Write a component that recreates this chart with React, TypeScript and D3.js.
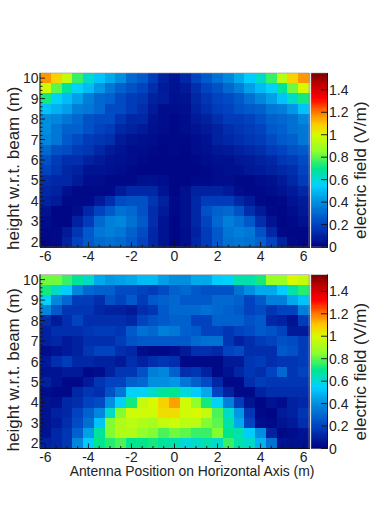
import React from "react";
import * as d3 from "d3";

const xValues = d3.range(25).map((i) => -6 + i * 0.5);
const yValues = d3.range(17).map((i) => 10 - i * 0.5);
const xTicks = [-6, -4, -2, 0, 2, 4, 6];
const yTicks = [2, 3, 4, 5, 6, 7, 8, 9, 10];
const barTicks = [0, 0.2, 0.4, 0.6, 0.8, 1, 1.2, 1.4];

const topField = [
  [116,108,96,76,62,52,46,40,30,26,18,10,6,12,20,26,32,38,46,54,62,76,94,108,116],
  [98,80,68,56,50,42,34,28,24,20,14,8,6,8,14,20,24,30,36,44,50,56,68,82,100],
  [72,56,50,44,36,30,28,22,18,16,10,9,5,6,12,16,20,22,26,32,38,44,52,62,72],
  [52,48,44,36,34,30,22,22,18,14,8,4,4,5,10,14,18,20,24,26,28,34,36,42,52],
  [40,38,34,30,24,22,22,16,12,12,6,4,3,4,8,10,14,18,18,20,24,28,30,32,38],
  [40,34,28,28,24,20,18,12,10,8,5,4,3,4,6,8,10,14,16,18,20,26,28,32,34],
  [38,34,26,22,18,16,14,8,6,5,4,3,3,3,4,6,10,12,14,16,18,22,26,28,34],
  [30,24,22,18,16,12,8,6,4,4,3,2,3,2,4,5,7,8,10,12,14,18,20,24,26],
  [24,18,14,14,10,8,6,5,4,3,2,2,2,2,3,4,5,5,7,8,10,12,16,18,22],
  [20,16,12,10,6,6,5,4,3,2,2,2,2,2,2,3,4,5,5,7,8,10,12,14,20],
  [14,12,12,8,4,4,3,3,3,5,5,4,2,2,3,3,4,4,3,3,4,5,8,12,18],
  [12,10,5,3,3,3,3,8,12,12,12,6,2,5,10,10,10,8,4,3,3,4,6,8,12],
  [10,8,3,3,3,8,14,22,24,24,16,10,3,5,12,18,18,18,12,8,3,2,3,6,8],
  [6,2,2,4,12,20,26,32,30,24,14,8,3,5,12,24,28,30,24,14,8,3,2,4,7],
  [4,2,2,10,18,30,36,38,32,26,14,6,2,5,12,20,30,36,32,26,14,6,2,3,5],
  [3,3,8,16,26,34,36,34,28,22,12,6,2,4,10,18,26,34,36,34,24,12,3,2,2],
  [2,3,10,20,26,30,32,30,26,20,12,6,2,4,12,18,26,32,34,32,28,20,10,3,2],
];

const bottomField = [
  [82,82,76,68,62,46,42,44,46,50,50,44,40,40,46,46,54,55,66,66,72,88,88,100,96],
  [72,62,54,38,30,28,28,22,22,20,18,22,28,30,26,24,24,24,32,40,46,46,54,66,74],
  [56,38,30,18,18,14,24,20,26,18,26,28,30,26,26,26,30,30,28,20,26,36,36,46,52],
  [38,26,16,16,16,12,10,10,8,14,16,26,30,30,30,32,30,28,26,20,22,16,20,20,36],
  [14,8,14,20,14,14,14,14,12,20,24,26,28,28,20,20,28,28,28,24,26,12,10,6,18],
  [10,14,14,14,16,18,18,16,26,32,30,36,34,28,26,20,20,16,20,22,26,24,20,8,8],
  [10,12,8,10,14,14,14,18,24,26,26,26,26,26,30,32,32,16,10,14,18,20,24,22,18],
  [4,6,8,10,16,20,20,14,12,4,3,3,4,8,14,14,12,20,22,14,14,14,26,24,18],
  [8,14,18,12,12,10,10,8,14,10,14,16,14,3,3,3,3,8,8,16,18,14,16,16,18],
  [6,6,8,8,3,4,10,16,16,24,36,38,28,14,16,10,3,6,12,16,14,20,30,16,20],
  [10,6,3,3,8,16,20,20,28,30,40,40,42,34,28,22,12,3,3,14,18,16,16,16,16],
  [4,3,3,12,16,14,24,34,56,56,62,68,70,60,54,46,20,10,3,3,10,14,14,14,14],
  [6,5,12,14,20,22,40,56,72,96,100,108,115,98,86,72,56,36,18,6,2,6,4,10,12],
  [6,10,12,20,28,38,62,84,98,98,98,106,106,98,100,96,78,62,42,16,3,2,8,10,16],
  [6,8,14,22,32,52,84,92,94,92,90,96,98,94,94,84,80,66,46,20,4,3,6,8,14],
  [6,12,16,28,44,68,84,92,92,86,84,78,82,80,76,76,84,70,66,54,40,10,3,4,6],
  [10,12,16,38,54,70,74,78,70,70,72,68,66,60,62,66,62,76,66,62,48,32,6,5,5],
];

const colorStops: [number, string][] = [
  [0, "#00007f"], [0.2, "#0042c0"], [0.4, "#008ee0"], [0.55, "#00d2ff"], [0.7, "#00e68c"],
  [0.85, "#8cff2c"], [1.0, "#d8fa00"], [1.1, "#ffc800"], [1.2, "#ff7800"], [1.32, "#ff0000"],
  [1.45, "#be0000"], [1.55, "#780000"],
];
const color = d3.scaleLinear<string>()
  .domain(colorStops.map((s) => s[0]))
  .range(colorStops.map((s) => s[1]))
  .interpolate(d3.interpolateRgb);

const font = "'Liberation Sans', sans-serif";
const ink = "#222";

function Panel({ top, field, showX }: { top: number; field: number[][]; showX: boolean }) {
  const left = 40, right = 309, h = 174;
  const bottom = top + h;
  const x = d3.scaleLinear().domain([-6.25, 6.25]).range([left, right]);
  const y = d3.scaleLinear().domain([1.75, 10.25]).range([bottom, top]);
  const bar = d3.scaleLinear().domain([0, 1.55]).range([bottom, top]);
  const cw = x(0.5) - x(0);
  const ch = y(2) - y(2.5);
  const barSteps = d3.range(0, 1.55, 0.01);
  return (
    <g>
      <g shapeRendering="crispEdges">
        {field.map((row, r) =>
          row.map((v, c) => (
            <rect key={`${r}-${c}`} x={x(xValues[c]) - cw / 2} y={y(yValues[r]) - ch / 2}
              width={cw + 0.5} height={ch + 0.5} fill={color(v / 100)} />
          ))
        )}
        {barSteps.map((v) => (
          <rect key={v} x={311} y={bar(v + 0.01)} width={16.5} height={bar(v) - bar(v + 0.01) + 0.5} fill={color(v)} />
        ))}
      </g>
      <rect x={left} y={top} width={right - left} height={h} fill="none" stroke="#999" strokeWidth={0.6} />
      <rect x={311} y={top} width={16.5} height={h} fill="none" stroke="#999" strokeWidth={0.5} />
      <line x1={left} x2={right} y1={bottom} y2={bottom} stroke="#111" strokeWidth={1} />
      <line x1={left} x2={left} y1={top} y2={bottom} stroke="#111" strokeWidth={1} />
      <line x1={327.5} x2={327.5} y1={top} y2={bottom} stroke="#111" strokeWidth={1} />
      {d3.range(-6, 6.01, 0.5).map((t) => (
        <line key={t} x1={x(t)} x2={x(t)} y1={bottom} y2={bottom - (t % 2 === 0 ? 5 : 2.5)} stroke="#111" strokeWidth={0.9} />
      ))}
      {d3.range(2, 10.01, 0.2).map((t) => {
        const major = Math.abs(t - Math.round(t)) < 0.01;
        return <line key={t} x1={left} x2={left + (major ? 5 : 2.5)} y1={y(t)} y2={y(t)} stroke="#111" strokeWidth={0.9} />;
      })}
      {barTicks.map((t) => (
        <line key={t} x1={327.5} x2={321} y1={bar(t)} y2={bar(t)} stroke="#111" strokeWidth={0.9} />
      ))}
      {xTicks.map((t) => (
        <text key={t} x={x(t)} y={bottom + 13.5} textAnchor="middle" fontSize={14} fill={ink} fontFamily={font}>{t}</text>
      ))}
      {yTicks.map((t) => (
        <text key={t} x={left - 1.5} y={y(t) + 5} textAnchor="end" fontSize={14} fill={ink} fontFamily={font}>{t}</text>
      ))}
      {barTicks.map((t) => (
        <text key={t} x={329} y={bar(t) + 5} fontSize={14} fill={ink} fontFamily={font}>{t}</text>
      ))}
      <text transform={`translate(18.5,${top + 177}) rotate(-90)`} fontSize={17} fill={ink} fontFamily={font}>height w.r.t. beam (m)</text>
      <text transform={`translate(366,${top + 166}) rotate(-90)`} fontSize={17.2} fill={ink} fontFamily={font}>electric field (V/m)</text>
      {showX && (
        <text x={192} y={bottom + 27} textAnchor="middle" fontSize={13.9} fill={ink} fontFamily={font}>Antenna Position on Horizontal Axis (m)</text>
      )}
    </g>
  );
}

export default function App() {
  return (
    <svg width={382} height={509} style={{ position: "fixed", left: 0, top: 0, background: "#fff" }}>
      <Panel top={73} field={topField} showX={false} />
      <Panel top={274.5} field={bottomField} showX={true} />
    </svg>
  );
}
